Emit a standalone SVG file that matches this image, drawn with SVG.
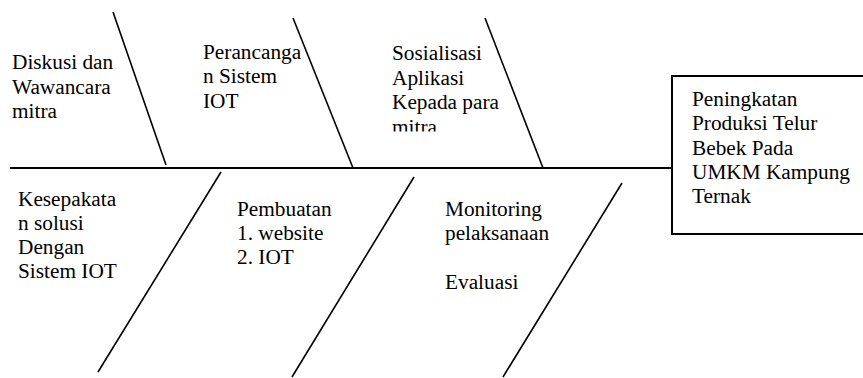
<svg xmlns="http://www.w3.org/2000/svg" width="863" height="378" viewBox="0 0 863 378">
<style>
text{font-family:'Liberation Serif','Times New Roman','DejaVu Serif',serif;font-size:21.3px;fill:#000}
.bone{stroke:#000;stroke-width:1.6;fill:none}
.spine{stroke:#000;stroke-width:2.2;fill:none}
.box{stroke:#000;stroke-width:2;fill:#fff}
</style>
<defs>
<clipPath id="clipSos"><rect x="380" y="0" width="140" height="131.5"/></clipPath>
</defs>
<rect width="863" height="378" fill="#fff"/>
<g id="connectors">
<line class="spine" x1="10" y1="168" x2="672" y2="168"/>
<line class="bone" x1="113" y1="12" x2="166" y2="165"/>
<line class="bone" x1="293" y1="18" x2="353" y2="168"/>
<line class="bone" x1="485" y1="18" x2="543" y2="168"/>
<line class="bone" x1="221" y1="172" x2="98" y2="372"/>
<line class="bone" x1="414" y1="177" x2="292" y2="377"/>
<line class="bone" x1="622" y1="183" x2="503" y2="377"/>
</g>
<g id="effect" font-family="Liberation Serif, serif">
<rect class="box" x="672" y="76" width="200" height="158"/>
<text x="692" y="106">Peningkatan</text>
<text x="692" y="130">Produksi Telur</text>
<text x="692" y="154.5">Bebek Pada</text>
<text x="692" y="179">UMKM Kampung</text>
<text x="692" y="203">Ternak</text>
</g>
<g id="cause-diskusi">
<text x="12" y="69">Diskusi dan</text>
<text x="12" y="93.5">Wawancara</text>
<text x="12" y="117.5">mitra</text>
</g>
<g id="cause-perancangan">
<text x="203" y="58.5">Perancanga</text>
<text x="203" y="83">n Sistem</text>
<text x="203" y="108">IOT</text>
</g>
<g id="cause-sosialisasi" clip-path="url(#clipSos)">
<text x="392" y="60">Sosialisasi</text>
<text x="392" y="84.5">Aplikasi</text>
<text x="392" y="109">Kepada para</text>
<text x="392" y="133.5">mitra</text>
</g>
<g id="cause-kesepakatan">
<text x="18" y="206">Kesepakata</text>
<text x="18" y="230">n solusi</text>
<text x="18" y="254">Dengan</text>
<text x="18" y="278">Sistem IOT</text>
</g>
<g id="cause-pembuatan">
<text x="237" y="216">Pembuatan</text>
<text x="237" y="240">1. website</text>
<text x="237" y="264">2. IOT</text>
</g>
<g id="cause-monitoring">
<text x="445" y="216">Monitoring</text>
<text x="445" y="240">pelaksanaan</text>
<text x="445" y="289">Evaluasi</text>
</g>
</svg>
